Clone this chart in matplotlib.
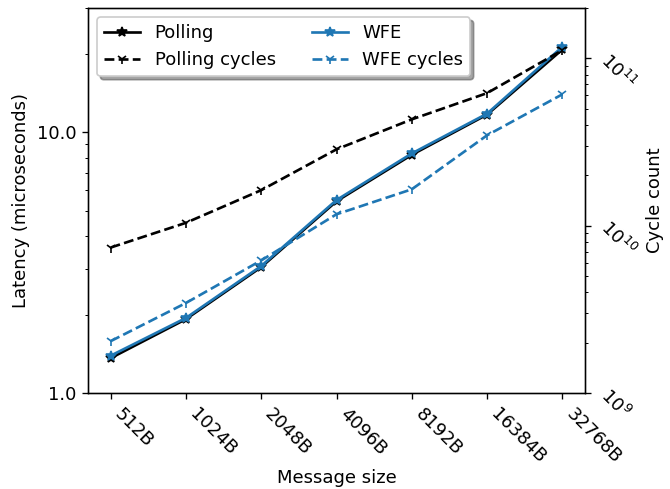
import numpy as np
import matplotlib
matplotlib.use("Agg")
import matplotlib.pyplot as plt
from matplotlib.ticker import FormatStrFormatter, NullFormatter

sizes = ["512B", "1024B", "2048B", "4096B", "8192B", "16384B", "32768B"]

polling_lat = [1.36, 1.92, 3.04, 5.44, 8.2, 11.7, 20.8]
wfe_lat = [1.39, 1.94, 3.07, 5.5, 8.3, 11.8, 21.3]

polling_cycles = [7.4e9, 1.04e10, 1.63e10, 2.86e10, 4.32e10, 6.2e10, 1.12e11]
wfe_cycles = [2.04e9, 3.45e9, 6.2e9, 1.17e10, 1.65e10, 3.47e10, 6.1e10]

# %%

plt.rcParams["font.size"] = 10.8
plt.rcParams["lines.linewidth"] = 1.6
plt.rcParams["lines.markersize"] = 6.5

fig, ax = plt.subplots(figsize=(670 / 120, 489 / 120), dpi=120)
fig.subplots_adjust(left=88 / 670, right=585 / 670, bottom=1 - 393 / 489, top=1 - 8 / 489)

x = np.arange(len(sizes))

l1, = ax.plot(x, polling_lat, color="black", marker="*", label="Polling")
l3, = ax.plot(x, wfe_lat, color="tab:blue", marker="*", label="WFE")
ax.set_yscale("log")
ax.set_ylim(1, 30)
ax.yaxis.set_major_formatter(FormatStrFormatter("%.1f"))
ax.yaxis.set_minor_formatter(NullFormatter())
ax.set_ylabel("Latency (microseconds)")
ax.set_xlabel("Message size", labelpad=1.2)
ax.set_xticks(x)
ax.set_xticklabels(sizes, rotation=-45, ha="left")

ax2 = ax.twinx()
l2, = ax2.plot(x, polling_cycles, color="black", marker="1", linestyle="--", label="Polling cycles")
l4, = ax2.plot(x, wfe_cycles, color="tab:blue", marker="1", linestyle="--", label="WFE cycles")
ax2.set_yscale("log")
ax2.set_ylim(1e9, 2e11)
ax2.tick_params(axis="y", which="major", labelrotation=-45)
ax2.set_ylabel("Cycle count")

ax2.legend([l1, l2, l3, l4], [h.get_label() for h in [l1, l2, l3, l4]],
           loc="upper left", ncol=2, shadow=True, framealpha=1)

fig.savefig("out.png", dpi=120)
